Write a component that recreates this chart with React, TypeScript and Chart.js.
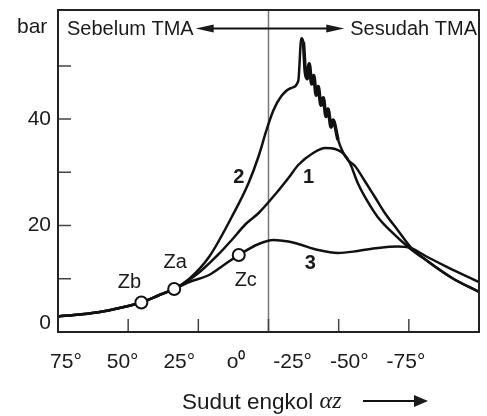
import { useEffect, useRef } from 'react';
import { Chart, registerables } from 'chart.js';

Chart.register(...registerables);

// ---- axis ticks ----
const crankTicks = [75, 50, 25, 0, -25, -50, -75];
const crankTickLabels = ['75°', '50°', '25°', 'o⁰', '-25°', '-50°', '-75°'];
const pressureTicks = [10, 20, 30, 40, 50];
const pressureLabelValues = [0, 20, 40];
const pressureLabels = ['0', '20', '40'];

// ---- shared compression part (crank angle °, pressure bar) ----
const sharedAngle = [75, 67.2, 60.1, 53.1, 45.3, 38.9, 33.6];
const sharedPressure = [2.91, 3.29, 3.76, 4.51, 5.54, 6.95, 8.08];

// ---- curve 1 ----
const curve1Angle = [28.3, 23.7, 17.7, 13.1, 8.1, 3.5, -2.8, -7.1, -10.6, -15.9, -20.2, -23.7, -26.5, -29.0, -31.8, -35.4, -38.9, -43.5, -50.6, -56.6, -65.4, -75.0];
const curve1Pressure = [9.77, 11.65, 14.66, 17.29, 20.29, 22.36, 26.12, 28.94, 31.38, 33.63, 34.57, 34.39, 33.63, 31.75, 28.0, 24.43, 21.61, 18.98, 15.6, 13.34, 10.15, 7.52];

// ---- curve 2 (knocking) ----
const curve2Angle = [28.3, 21.2, 13.1, 7.1, 3.5, 0.7, -1.8, -4.6, -8.1, -10.6, -11.7, -12.4, -13.1, -13.8, -14.5, -15.4, -16.1, -17.0, -17.7, -18.7, -19.5, -20.5, -21.2, -22.3, -23.0, -24.8, -26.5, -28.3, -30.8, -34.3, -37.9, -41.7, -46.0, -50.6, -56.6, -65.4, -75.0];
const curve2Pressure = [9.96, 14.09, 21.61, 28.0, 33.07, 37.96, 41.71, 44.34, 45.85, 47.16, 55.2, 54.49, 48.85, 47.6, 50.4, 46.6, 48.2, 44.5, 46.1, 42.6, 44.0, 40.5, 41.9, 38.5, 39.8, 36.08, 33.82, 32.32, 31.19, 28.37, 25.37, 22.17, 19.17, 15.97, 13.34, 10.15, 7.52];

// ---- curve 3 (motored) ----
const curve3Angle = [28.3, 21.2, 15.9, 10.6, 3.5, -1.8, -7.1, -10.6, -17.7, -24.8, -31.8, -38.9, -46.0, -50.6, -56.6, -63.7, -75.0];
const curve3Pressure = [9.39, 10.71, 12.59, 14.47, 16.54, 17.29, 17.0, 16.54, 15.41, 14.84, 15.22, 15.78, 16.07, 15.78, 14.09, 12.21, 9.39];

// ---- marked points ----
const markerNames = ['Zb', 'Za', 'Zc'];
const markerAngle = [45.3, 33.6, 10.6];
const markerPressure = [5.54, 8.08, 14.47];

// ---- curve numbers ----
const curveTags = ['1', '2', '3'];
const curveTagAngle = [-14.3, 10.6, -14.9];
const curveTagPressure = [29.0, 29.1, 12.9];

const toPoints = (xs: number[], ys: number[]) => xs.map((x, i) => ({ x, y: ys[i] }));

const SANS = '"Liberation Sans", Arial, Helvetica, sans-serif';

const decor = {
  id: 'decor',
  beforeDatasetsDraw(chart: any) {
    const { ctx, chartArea: a, scales } = chart;
    const x = scales.x;
    const y = scales.y;
    ctx.save();
    ctx.strokeStyle = '#777';
    ctx.lineWidth = 1.5;
    const tx = x.getPixelForValue(0);
    ctx.beginPath();
    ctx.moveTo(tx, a.top);
    ctx.lineTo(tx, a.bottom);
    ctx.stroke();
    ctx.strokeStyle = '#444';
    ctx.lineWidth = 1.5;
    ctx.beginPath();
    pressureTicks.forEach((v) => {
      const py = y.getPixelForValue(v);
      ctx.moveTo(a.left, py);
      ctx.lineTo(a.left + 13, py);
    });
    crankTicks.forEach((v) => {
      const px = x.getPixelForValue(v);
      ctx.moveTo(px, a.bottom);
      ctx.lineTo(px, a.bottom - 13);
    });
    ctx.stroke();
    ctx.restore();
  },
  afterDatasetsDraw(chart: any) {
    const { ctx, chartArea: a, scales } = chart;
    const x = scales.x;
    const y = scales.y;
    const xl = scales.xLab;
    ctx.save();
    ctx.strokeStyle = '#222';
    ctx.lineWidth = 2;
    ctx.strokeRect(a.left, a.top, a.right - a.left, a.bottom - a.top);

    ctx.fillStyle = '#1a1a1a';
    ctx.textBaseline = 'middle';

    ctx.font = `21px ${SANS}`;
    ctx.textAlign = 'right';
    pressureLabelValues.forEach((v, i) => {
      const py = Math.min(y.getPixelForValue(v), a.bottom - 9);
      ctx.fillText(pressureLabels[i], a.left - 7, py);
    });
    ctx.textAlign = 'left';
    ctx.fillText('bar', 17, 27);

    ctx.textAlign = 'center';
    crankTicks.forEach((v, i) => {
      ctx.fillText(crankTickLabels[i], xl.getPixelForValue(v), a.bottom + 30);
    });

    // axis title
    ctx.font = `22.5px ${SANS}`;
    ctx.textAlign = 'left';
    const t1 = 'Sudut engkol ';
    const tx0 = 182;
    const ty = 403;
    ctx.fillText(t1, tx0, ty);
    const w1 = ctx.measureText(t1).width;
    ctx.font = `italic 24px "Liberation Serif", "Times New Roman", serif`;
    ctx.fillText('αz', tx0 + w1, ty - 1);
    const w2 = ctx.measureText('αz').width;
    const ax0 = Math.max(tx0 + w1 + w2 + 12, 363);
    const ax1 = ax0 + 65;
    ctx.strokeStyle = '#111';
    ctx.lineWidth = 1.8;
    ctx.beginPath();
    ctx.moveTo(ax0, ty - 2);
    ctx.lineTo(ax1 - 10, ty - 2);
    ctx.stroke();
    ctx.beginPath();
    ctx.moveTo(ax1, ty - 2);
    ctx.lineTo(ax1 - 14, ty - 8);
    ctx.lineTo(ax1 - 14, ty + 4);
    ctx.closePath();
    ctx.fill();

    // top labels and double arrow
    ctx.font = `20px ${SANS}`;
    const topY = 29.5;
    ctx.textAlign = 'left';
    const leftText = 'Sebelum TMA';
    const lx = a.left + 9;
    ctx.fillText(leftText, lx, topY);
    const lEnd = lx + ctx.measureText(leftText).width + 2;
    ctx.textAlign = 'right';
    const rightText = 'Sesudah TMA';
    const rx = a.right - 2;
    ctx.fillText(rightText, rx, topY);
    const rStart = rx - ctx.measureText(rightText).width - 6;
    const arrowY = 28.5;
    ctx.lineWidth = 2;
    ctx.beginPath();
    ctx.moveTo(lEnd + 10, arrowY);
    ctx.lineTo(rStart - 10, arrowY);
    ctx.stroke();
    ctx.beginPath();
    ctx.moveTo(lEnd, arrowY);
    ctx.lineTo(lEnd + 18, arrowY - 4);
    ctx.lineTo(lEnd + 18, arrowY + 4);
    ctx.closePath();
    ctx.fill();
    ctx.beginPath();
    ctx.moveTo(rStart, arrowY);
    ctx.lineTo(rStart - 18, arrowY - 4);
    ctx.lineTo(rStart - 18, arrowY + 4);
    ctx.closePath();
    ctx.fill();

    ctx.font = `20px ${SANS}`;
    ctx.textAlign = 'center';
    const offs = [[-12, -20], [1, -27], [7, 25]];
    markerNames.forEach((n, i) => {
      const px = x.getPixelForValue(markerAngle[i]);
      const py = y.getPixelForValue(markerPressure[i]);
      ctx.fillText(n, px + offs[i][0], py + offs[i][1]);
    });

    ctx.font = `bold 20px ${SANS}`;
    curveTags.forEach((t, i) => {
      ctx.fillText(t, x.getPixelForValue(curveTagAngle[i]), y.getPixelForValue(curveTagPressure[i]));
    });
    ctx.restore();
  },
};

export default function App() {
  const ref = useRef<HTMLCanvasElement>(null);
  useEffect(() => {
    if (!ref.current) return;
    const lineStyle = {
      type: 'line' as const,
      borderColor: '#111',
      borderWidth: 2.5,
      pointRadius: 0,
      fill: false,
      cubicInterpolationMode: 'monotone' as const,
    };
    const chart = new Chart(ref.current, {
      type: 'line',
      data: {
        datasets: [
          {
            type: 'scatter',
            data: toPoints(markerAngle, markerPressure),
            pointRadius: 6,
            pointBorderWidth: 2,
            pointBackgroundColor: '#fff',
            pointBorderColor: '#111',
            showLine: false,
          } as any,
          { ...lineStyle, data: toPoints([...sharedAngle, ...curve1Angle], [...sharedPressure, ...curve1Pressure]) },
          {
            ...lineStyle,
            data: toPoints([...sharedAngle, ...curve2Angle], [...sharedPressure, ...curve2Pressure]),
            segment: {
              borderWidth: (c: any) => (c.p0.parsed.x <= -12.4 && c.p1.parsed.x >= -24.8 ? 3.6 : 2.5),
            },
          } as any,
          { ...lineStyle, data: toPoints([...sharedAngle, ...curve3Angle], [...sharedPressure, ...curve3Pressure]) },
        ],
      },
      options: {
        animation: false,
        responsive: false,
        devicePixelRatio: 1,
        layout: { padding: { left: 58, top: 10, right: 5, bottom: 84 } },
        plugins: { legend: { display: false }, tooltip: { enabled: false } },
        scales: {
          x: { type: 'linear', min: -75, max: 75, reverse: true, display: false },
          xLab: { type: 'linear', axis: 'x', min: -107.2, max: 78.5, reverse: true, display: false },
          y: { type: 'linear', min: 0, max: 60.5, display: false },
        },
      },
      plugins: [decor],
    });
    return () => chart.destroy();
  }, []);
  return (
    <div style={{ position: 'absolute', left: 0, top: 0, width: 487, height: 416, background: '#fff' }}>
      <canvas ref={ref} width={487} height={416} />
    </div>
  );
}
